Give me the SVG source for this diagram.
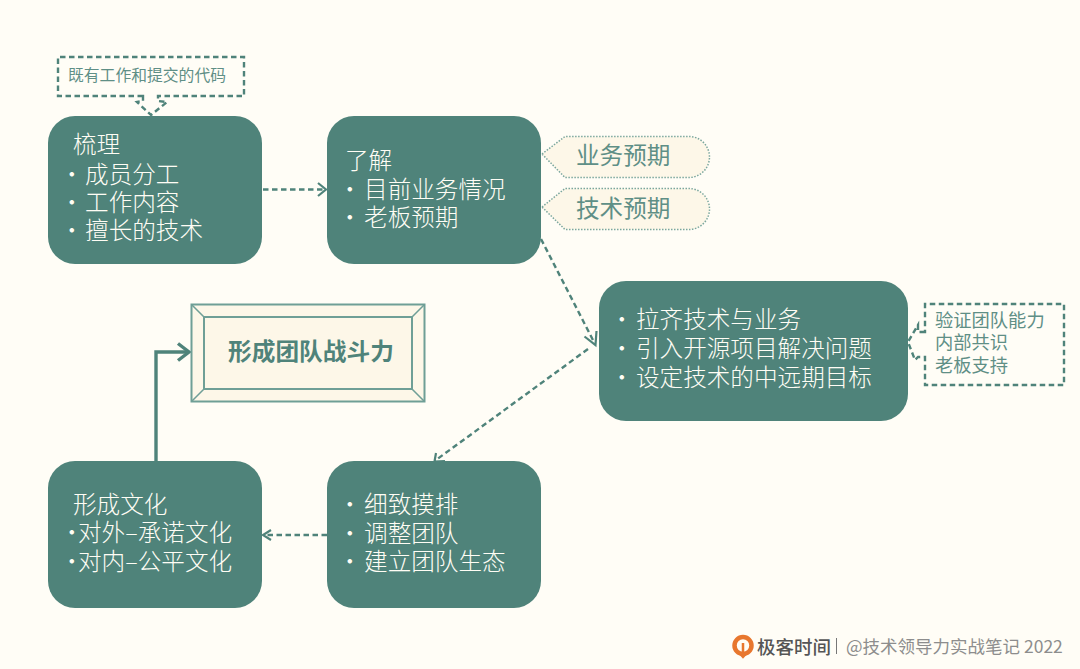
<svg xmlns="http://www.w3.org/2000/svg" width="1080" height="669" viewBox="0 0 1080 669">
<style>
text{font-family:"Noto Sans CJK SC","Liberation Sans",sans-serif}
.box{fill:#4f837a}
.w{fill:#fffdf5;font-size:23.6px;font-weight:300}
.g{fill:#5f8f86}
.c{fill:none;stroke:#4f837a;stroke-width:2.4;stroke-dasharray:5.500 3.500}
.h{fill:none;stroke:#4f837a;stroke-width:2.2}
.t{fill:#fdf7e8;stroke:#7ba79e;stroke-width:1.5;stroke-dasharray:1.5 1.5}
</style>
<rect width="1080" height="669" fill="#fffdf6"/>
<g id="connectors">
<path class="c" d="M263 189.500H324"/><path class="h" d="M318 183L326 189.500L318 196"/>
<path class="c" d="M541 239L595 344"/><path class="h" d="M584.500 336.500L595.500 345L596.500 331"/>
<path class="c" d="M588 349L436 460"/><path class="h" d="M436 453L434.500 461.500L445 461"/>
<path class="c" d="M327 535H266"/><path class="h" d="M271 530L263 535L271 540"/>
<path d="M156 461V352H188" fill="none" stroke="#4f837a" stroke-width="3.400"/><path d="M178 343.500L189 352L178 360.500" fill="none" stroke="#4f837a" stroke-width="3.400"/>
</g>
<g id="n-code">
<path class="c" d="M143 96H58V57H244V96H158V101L167 102L151 115L137 102L143 101Z"/>
<text x="68" y="81" font-size="15.800" class="g">既有工作和提交的代码</text>
</g>
<g id="n-sort">
<rect class="box" x="48" y="116" width="214" height="148" rx="27"/>
<text class="w" x="73" y="153">梳理</text>
<text class="w" x="60" y="183">·<tspan dx="1.500">成员分工</tspan></text>
<text class="w" x="60" y="211">·<tspan dx="1.500">工作内容</tspan></text>
<text class="w" x="60" y="239">·<tspan dx="1.500">擅长的技术</tspan></text>
</g>
<g id="n-know">
<rect class="box" x="327" y="116" width="214" height="148" rx="27"/>
<text class="w" x="345" y="168.500">了解</text>
<text class="w" x="338" y="197.500">·<tspan dx="2.500">目前业务情况</tspan></text>
<text class="w" x="338" y="226">·<tspan dx="2.500">老板预期</tspan></text>
</g>
<g id="n-biz">
<path class="t" d="M542 154L565 136.500H689A20.500 20.500 0 0 1 689 177.500H565Z"/>
<text x="576" y="164" font-size="23.600" class="g">业务预期</text>
</g>
<g id="n-tech">
<path class="t" d="M542 207L565 188.500H689A20.500 20.500 0 0 1 689 229.500H565Z"/>
<text x="576" y="216.500" font-size="23.600" class="g">技术预期</text>
</g>
<g id="n-align">
<rect class="box" x="599" y="281" width="309" height="140" rx="27"/>
<text class="w" x="610" y="328">·<tspan dx="2.400">拉齐技术与业务</tspan></text>
<text class="w" x="610" y="357">·<tspan dx="2.400">引入开源项目解决问题</tspan></text>
<text class="w" x="610" y="386">·<tspan dx="2.400">设定技术的中远期目标</tspan></text>
</g>
<g id="n-verify">
<path class="c" d="M925 332H918V325L908 342L915 360L918 357H925V385H1064V304H925Z"/>
<text x="935" y="327" font-size="18.300" class="g">验证团队能力</text>
<text x="935" y="349" font-size="18.300" class="g">内部共识</text>
<text x="935" y="372" font-size="18.300" class="g">老板支持</text>
</g>
<g id="n-power">
<rect x="191.500" y="304.500" width="233" height="97" fill="#fdf7e8" stroke="#6f9f96" stroke-width="2"/>
<rect x="204" y="317" width="208" height="72" fill="none" stroke="#6f9f96" stroke-width="2"/>
<path d="M191.500 304.500L204 317M424.500 304.500L412 317M191.500 401.500L204 389M424.500 401.500L412 389" fill="none" stroke="#6f9f96" stroke-width="1.500"/>
<text x="228" y="360" font-size="23.700" font-weight="700" fill="#4f837a">形成团队战斗力</text>
</g>
<g id="n-detail">
<rect class="box" x="327" y="461" width="214" height="147" rx="27"/>
<text class="w" x="338" y="513">·<tspan dx="2.500">细致摸排</tspan></text>
<text class="w" x="338" y="542">·<tspan dx="2.500">调整团队</tspan></text>
<text class="w" x="338" y="570">·<tspan dx="2.500">建立团队生态</tspan></text>
</g>
<g id="n-culture">
<rect class="box" x="48" y="461" width="214" height="147" rx="27"/>
<text class="w" x="73" y="513">形成文化</text>
<text class="w" x="60" y="541">·<tspan dx="-5.600">对外–承诺文化</tspan></text>
<text class="w" x="60" y="570">·<tspan dx="-5.600">对内–公平文化</tspan></text>
</g>
<g id="footer">
<circle cx="743" cy="645.500" r="8.500" fill="none" stroke="#e8772e" stroke-width="4.500"/>
<path d="M743 643V657M738.500 652L743 657L747.500 652" fill="none" stroke="#e8772e" stroke-width="2.500"/>
<text x="757" y="654" font-size="18.500" font-weight="500" fill="#555">极客时间</text>
<path d="M836.500 638V654" stroke="#777" stroke-width="1"/>
<text x="846" y="653" font-size="17.500" fill="#8d8d8d">@技术领导力实战笔记 2022</text>
</g>
</svg>
